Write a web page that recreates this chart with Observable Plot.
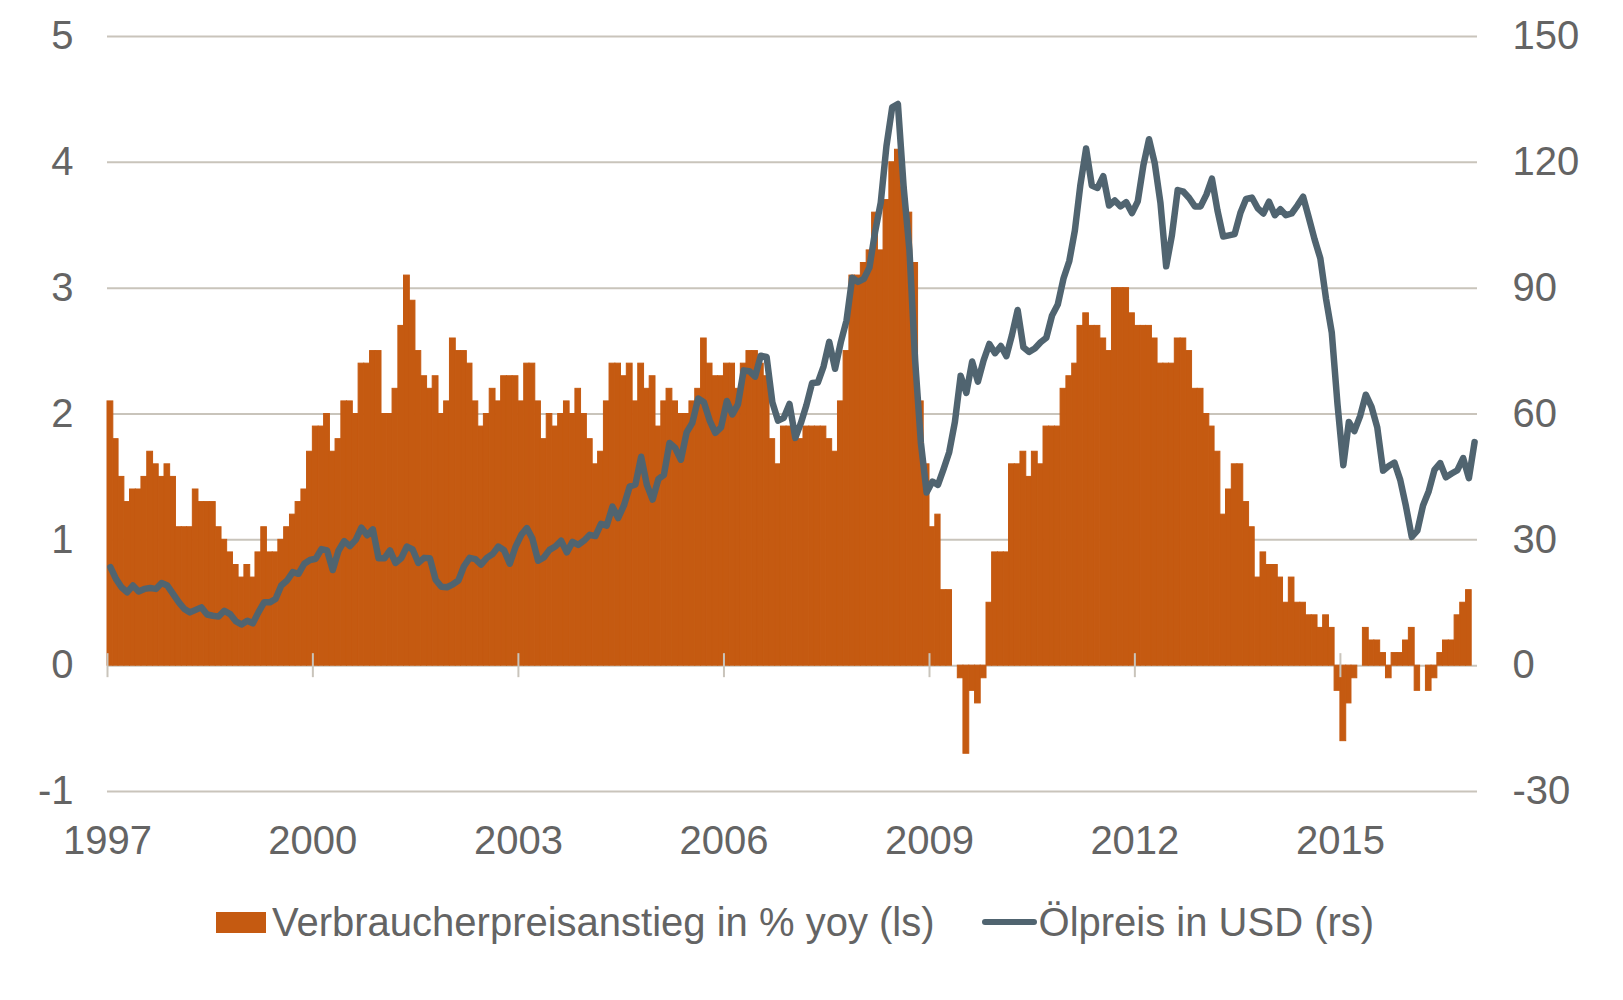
<!DOCTYPE html>
<html>
<head>
<meta charset="utf-8">
<script src="https://cdn.jsdelivr.net/npm/d3@7"></script>
<script src="https://cdn.jsdelivr.net/npm/@observablehq/plot@0.6"></script>
<style>
  body { margin: 0; background: #ffffff; font-family: "Liberation Sans", Arial, sans-serif; }
  #wrap { position: relative; width: 1623px; height: 1000px; overflow: hidden; }
  #chart { position: absolute; left: 0; top: 0; }
  #legend { position: absolute; left: 216px; top: 900px; height: 44px; display: flex; align-items: center;
            font-size: 40px; color: #646464; white-space: nowrap; }
  .sw-bar { width: 50px; height: 21px; background: #c55a11; margin-right: 6px; }
  .sw-line { width: 55px; height: 6px; border-radius: 3px; background: #506470; margin-left: 47px; margin-right: 2px; }
</style>
</head>
<body>
<div id="wrap">
  <div id="chart"></div>
  <div id="legend"></div>
</div>
<script>
// ---------------- data ----------------
const startYear = 1997;
const seriesNames = ["Verbraucherpreisanstieg in % yoy (ls)", "Ölpreis in USD (rs)"];

// monthly consumer price inflation, % yoy (left scale), Jan 1997 - Nov 2016
const cpiYoY = [
  2.1,1.8,1.5,1.3,1.4,1.4,1.5,1.7,1.6,1.5,1.6,1.5,
  1.1,1.1,1.1,1.4,1.3,1.3,1.3,1.1,1.0,0.9,0.8,0.7,
  0.8,0.7,0.9,1.1,0.9,0.9,1.0,1.1,1.2,1.3,1.4,1.7,
  1.9,1.9,2.0,1.7,1.8,2.1,2.1,2.0,2.4,2.4,2.5,2.5,
  2.0,2.0,2.2,2.7,3.1,2.9,2.5,2.3,2.2,2.3,2.0,2.1,
  2.6,2.5,2.5,2.4,2.1,1.9,2.0,2.2,2.1,2.3,2.3,2.3,
  2.1,2.4,2.4,2.1,1.8,2.0,1.9,2.0,2.1,2.0,2.2,2.0,
  1.8,1.6,1.7,2.1,2.4,2.4,2.3,2.4,2.1,2.4,2.2,2.3,
  1.9,2.1,2.2,2.1,2.0,2.0,2.1,2.2,2.6,2.4,2.3,2.3,
  2.4,2.4,2.2,2.4,2.5,2.5,2.4,2.3,1.8,1.6,1.9,1.9,
  1.9,1.8,1.9,1.9,1.9,1.9,1.8,1.7,2.1,2.5,3.1,3.1,
  3.2,3.3,3.6,3.3,3.7,4.0,4.1,3.8,3.6,3.2,2.1,1.6,
  1.1,1.2,0.6,0.6,0.0,-0.1,-0.7,-0.2,-0.3,-0.1,0.5,0.9,
  0.9,0.9,1.6,1.6,1.7,1.5,1.7,1.6,1.9,1.9,1.9,2.2,
  2.3,2.4,2.7,2.8,2.7,2.7,2.6,2.5,3.0,3.0,3.0,2.8,
  2.7,2.7,2.7,2.6,2.4,2.4,2.4,2.6,2.6,2.5,2.2,2.2,
  2.0,1.9,1.7,1.2,1.4,1.6,1.6,1.3,1.1,0.7,0.9,0.8,
  0.8,0.7,0.5,0.7,0.5,0.5,0.4,0.4,0.3,0.4,0.3,-0.2,
  -0.6,-0.3,-0.1,0.0,0.3,0.2,0.2,0.1,-0.1,0.1,0.1,0.2,
  0.3,-0.2,0.0,-0.2,-0.1,0.1,0.2,0.2,0.4,0.5,0.6
];

// monthly oil price in USD (right scale), Jan 1997 - Dec 2016
const oilUSD = [
  23.5,20.7,18.7,17.5,19.1,17.7,18.3,18.5,18.3,19.7,19.1,17.1,
  15.1,13.5,12.7,13.3,13.9,12.2,11.9,11.7,13.1,12.3,10.6,9.8,
  10.7,10.1,12.7,15.1,15.1,15.9,19.1,20.3,22.3,21.9,24.3,25.2,
  25.5,27.8,27.5,22.8,27.4,29.7,28.5,30.0,32.9,31.1,32.5,25.6,
  25.6,27.5,24.5,25.6,28.4,27.7,24.5,25.7,25.6,20.5,18.8,18.7,
  19.4,20.3,23.7,25.7,25.4,24.1,25.7,26.6,28.4,27.5,24.3,28.3,
  31.2,32.8,30.3,25.0,25.8,27.6,28.4,29.8,27.0,29.5,28.8,29.8,
  31.2,30.9,33.8,33.4,37.9,35.2,38.2,42.7,43.2,49.8,43.1,39.6,
  44.5,45.5,53.1,51.9,49.1,55.6,57.9,63.7,62.8,58.5,55.5,56.8,
  63.1,59.9,62.3,70.4,70.2,68.9,73.9,73.6,62.8,58.4,59.1,62.4,
  54.3,57.8,62.1,67.4,67.5,71.3,77.2,70.8,77.1,82.3,92.5,91.5,
  92.2,94.9,103.3,110.4,123.9,133.1,133.9,113.9,99.1,72.7,53.2,41.3,
  43.9,43.1,46.8,50.9,58.1,69.1,65.0,72.5,67.7,72.8,76.7,74.5,
  76.2,73.8,78.8,84.8,75.9,74.8,75.6,77.1,78.2,83.5,86.1,92.3,
  96.5,103.7,114.6,123.3,114.5,113.9,116.7,109.7,110.9,109.5,110.5,107.9,
  110.7,119.3,125.5,119.8,110.3,95.2,102.6,113.4,113.0,111.5,109.5,109.5,
  112.3,116.1,108.5,102.3,102.6,102.9,107.9,111.3,111.6,109.1,107.8,110.6,
  107.4,108.8,107.4,107.8,109.7,111.8,106.8,101.6,97.1,87.4,79.4,62.3,
  47.8,58.1,55.9,59.5,64.6,61.7,56.8,46.5,47.6,48.4,44.3,38.0,
  30.7,32.2,38.2,41.6,46.7,48.3,44.9,45.8,46.6,49.5,44.7,53.3
];

const leftTicks = [-1, 0, 1, 2, 3, 4, 5];
const leftTickLabels = ["-1", "0", "1", "2", "3", "4", "5"];
const rightTickLabels = [-30, 0, 30, 60, 90, 120, 150];
const yearTicks = [1997, 2000, 2003, 2006, 2009, 2012, 2015];
const domainYears = [1997, 2017];

// ---------------- build ----------------
const ratio = (rightTickLabels[rightTickLabels.length - 1] - rightTickLabels[0]) /
              (leftTicks[leftTicks.length - 1] - leftTicks[0]);

const months = cpiYoY.map((v, i) => ({
  start: new Date(Date.UTC(startYear, i, 1)),
  end: new Date(Date.UTC(startYear, i + 1, 1)),
  v
}));
const oil = oilUSD.map((v, i) => {
  const a = Date.UTC(startYear, i, 1), b = Date.UTC(startYear, i + 1, 1);
  return { mid: new Date((a + b) / 2), v: v / ratio };
});
const yearDates = yearTicks.map(y => new Date(Date.UTC(y, 0, 1)));

const barColor = "#c55a11";
const lineColor = "#506470";
const gridColor = "#c9c4bb";
const textColor = "#646464";

const chart = Plot.plot({
  width: 1623,
  height: 880,
  marginTop: 36,
  marginBottom: 89,
  marginLeft: 107,
  marginRight: 146,
  style: { fontFamily: "'Liberation Sans', Arial, sans-serif", fontSize: "40px", color: textColor, background: "#ffffff" },
  x: { type: "utc", domain: domainYears.map(y => new Date(Date.UTC(y, 0, 1))) },
  y: { domain: [leftTicks[0], leftTicks[leftTicks.length - 1]] },
  marks: [
    Plot.ruleY(leftTicks, { stroke: gridColor, strokeWidth: 2 }),
    Plot.rect(months, { x1: "start", x2: "end", y1: 0, y2: "v", fill: barColor, stroke: barColor, strokeWidth: 1 }),
    Plot.ruleX(yearDates, { x: d => d, y1: 0, y2: 0, insetTop: -12, insetBottom: -12, stroke: gridColor, strokeWidth: 2 }),
    Plot.line(oil, { x: "mid", y: "v", stroke: lineColor, strokeWidth: 6.5, strokeLinejoin: "round", strokeLinecap: "round" }),
    Plot.axisY(leftTicks, { anchor: "left", tickSize: 0, tickPadding: 34, label: null,
      tickFormat: d => leftTickLabels[leftTicks.indexOf(d)] }),
    Plot.axisY(leftTicks, { anchor: "right", tickSize: 0, tickPadding: 35, label: null,
      tickFormat: d => String(rightTickLabels[leftTicks.indexOf(d)]) }),
    Plot.axisX(yearDates, { anchor: "bottom", tickSize: 0, tickPadding: 34, label: null, tickFormat: d => String(d.getUTCFullYear()) })
  ]
});
document.getElementById("chart").appendChild(chart);

const legend = document.getElementById("legend");
legend.innerHTML =
  `<div class="sw-bar"></div><span>${seriesNames[0]}</span>` +
  `<div class="sw-line"></div><span>${seriesNames[1]}</span>`;
</script>
</body>
</html>
